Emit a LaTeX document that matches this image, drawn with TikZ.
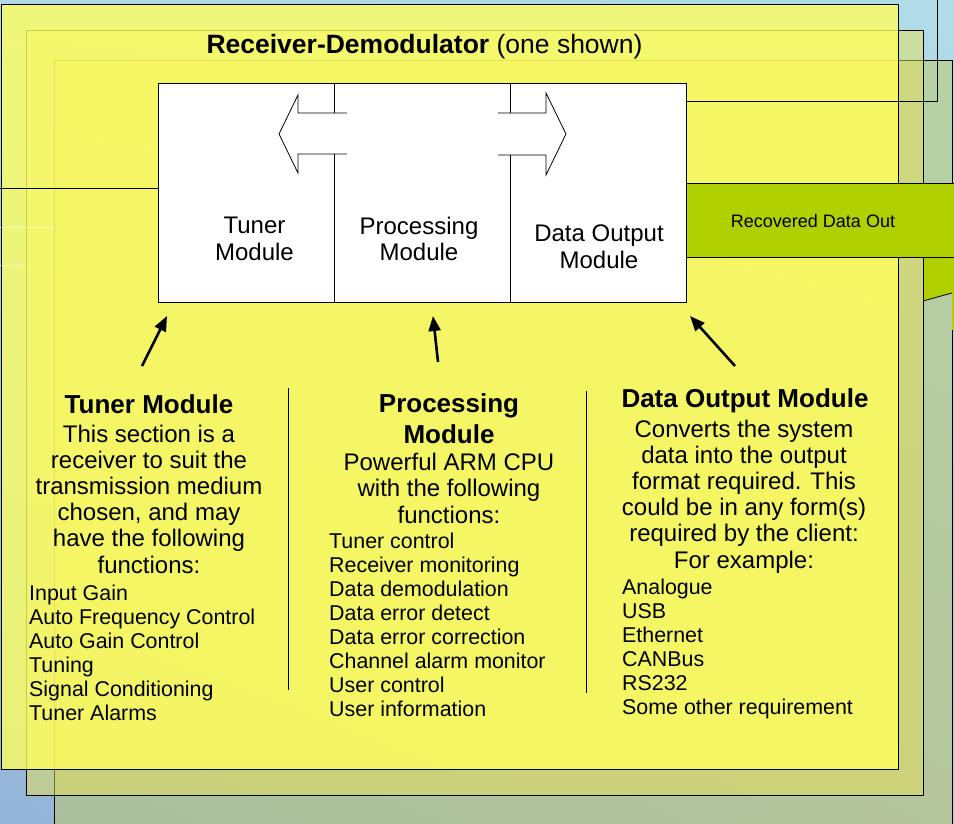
\documentclass[tikz,border=0pt]{standalone}
\usepackage{fontspec}
\setmainfont{Liberation Sans}
\usetikzlibrary{arrows.meta,shadings}
\definecolor{layC}{RGB}{190,200,100}
\definecolor{layB}{RGB}{230,225,90}
\definecolor{layA}{RGB}{255,255,95}
\definecolor{bandgreen}{RGB}{176,208,0}
\definecolor{bgTL}{RGB}{176,216,232}
\definecolor{bgTR}{RGB}{176,220,232}
\definecolor{bgBL}{RGB}{148,180,216}
\definecolor{bgBR}{RGB}{172,196,214}
\tikzset{
  layer/.style={draw=black, line width=0.8pt},
  modbox/.style={draw=black, fill=white, line width=0.8pt, inner sep=0pt, anchor=north west, minimum height=219pt},
  boxlabel/.style={font=\fontsize{24}{27}\selectfont, align=center, inner sep=0pt, anchor=base},
  titlelabel/.style={font=\fontsize{26.5}{30}\selectfont, inner sep=0pt, anchor=base},
  headlabel/.style={font=\fontsize{26}{31}\selectfont\bfseries, align=center, inner sep=0pt, anchor=base},
  paralabel/.style={font=\fontsize{24}{26.2}\selectfont, align=center, inner sep=0pt, anchor=base},
  listlabel/.style={font=\fontsize{21.4}{24}\selectfont, align=left, inner sep=0pt, anchor=base west},
  pointer/.style={line width=2.6pt, -{Triangle[length=15pt,width=12pt]}},
  thinline/.style={draw=black, line width=0.8pt},
  sepline/.style={draw=black, line width=0.8pt},
}
\begin{document}
\begin{tikzpicture}[x=1pt,y=-1pt]
\useasboundingbox (0,0) rectangle (954,824);
% background
\shade[upper left=bgTL, upper right=bgTR, lower left=bgBL, lower right=bgBR] (0,0) rectangle (954,824);
% back layers
\path[layer, fill=layC, fill opacity=0.5] (54,60) rectangle (952,840);
\fill[bandgreen] (923,257) -- (952,257) -- (952,293) -- (923,301) -- cycle;
\fill[bandgreen] (952,257) -- (955,257) -- (955,330) -- (952,330) -- cycle;
\draw[thinline] (923,301) -- (952,293);
\path[layer, fill=layB, fill opacity=0.5] (26,30) rectangle (923,795);
\path[layer, fill=layA, fill opacity=0.8] (1,4) rectangle (898,769);
% faint lines at left
\draw[white, opacity=0.45, line width=0.8pt] (0,227) -- (54,227);
\draw[white, opacity=0.45, line width=0.8pt] (0,265) -- (26,265);
% title
\node[titlelabel] (title) at (424.5,54) {\textbf{Receiver-Demodulator} (one shown)};
% output band
\path[fill=bandgreen, draw=black, line width=0.8pt] (686,183) -- (956,183) -- (956,257) -- (686,257);
\node[font=\fontsize{18}{20}\selectfont, inner sep=0pt, anchor=base] (band) at (813,227) {Recovered Data Out};
% module boxes
\node[modbox, minimum width=176pt] (tun) at (158,83) {};
\node[modbox, minimum width=176pt] (proc) at (334,83) {};
\node[modbox, minimum width=176pt] (dout) at (510,83) {};
% external lines
\coordinate (leftend) at (0,188);
\coordinate (topcorner) at (937,101);
\coordinate (topend) at (937,0);
\draw[thinline] (leftend) -- (leftend -| tun.west);
\draw[thinline] (dout.east |- topcorner) -- (topcorner) -- (topend);
% hollow arrows
\fill[white] (347,113) -- (298,113) -- (298,95) -- (279,134) -- (298,173) -- (298,154) -- (347,154) -- cycle;
\draw[thinline] (347,113) -- (298,113) -- (298,95) -- (279,134) -- (298,173) -- (298,154) -- (347,154);
\fill[white] (498,113) -- (546,113) -- (546,93) -- (566,134) -- (546,175) -- (546,155) -- (498,155) -- cycle;
\draw[thinline] (498,113) -- (546,113) -- (546,93) -- (566,134) -- (546,175) -- (546,155) -- (498,155);
% box labels (anchor = baseline of last line)
\node[boxlabel] (tunl) at (254.5,260) {Tuner\\Module};
\node[boxlabel] (procl) at (419,261) {Processing\\Module};
\node[boxlabel] (doutl) at (599,268) {Data Output\\Module};
% pointers
\coordinate (p1s) at (142,366); \coordinate (p1e) at (167,316);
\coordinate (p2s) at (438,362); \coordinate (p2e) at (433,316);
\coordinate (p3s) at (735,366); \coordinate (p3e) at (690,316);
\draw[pointer] (p1s) -- (p1e);
\draw[pointer] (p2s) -- (p2e);
\draw[pointer] (p3s) -- (p3e);
% separators
\draw[sepline] (288,388) -- (288,690);
\draw[sepline] (586,391) -- (586,693);
% tuner section
\node[headlabel] (th) at (149,413) {Tuner Module};
\node[paralabel] (tp) at (149,573) {This section is a\\receiver to suit the\\transmission medium\\chosen, and may\\have the following\\functions:};
\node[listlabel] (tl) at (29,720) {Input Gain\\Auto Frequency Control\\Auto Gain Control\\Tuning\\Signal Conditioning\\Tuner Alarms};
% processing section
\node[headlabel] (ph) at (449,443) {Processing\\Module};
\node[paralabel] (pp) at (449,523) {Powerful ARM CPU\\with the following\\functions:};
\node[listlabel] (pl) at (329,716) {Tuner control\\Receiver monitoring\\Data demodulation\\Data error detect\\Data error correction\\Channel alarm monitor\\User control\\User information};
% data output section
\node[headlabel] (dh) at (745,407) {Data Output Module};
\node[paralabel] (dp) at (744,568) {Converts the system\\data into the output\\format required. This\\could be in any form(s)\\required by the client:\\For example:};
\node[listlabel] (dl) at (622,714) {Analogue\\USB\\Ethernet\\CANBus\\RS232\\Some other requirement};
\end{tikzpicture}
\end{document}
